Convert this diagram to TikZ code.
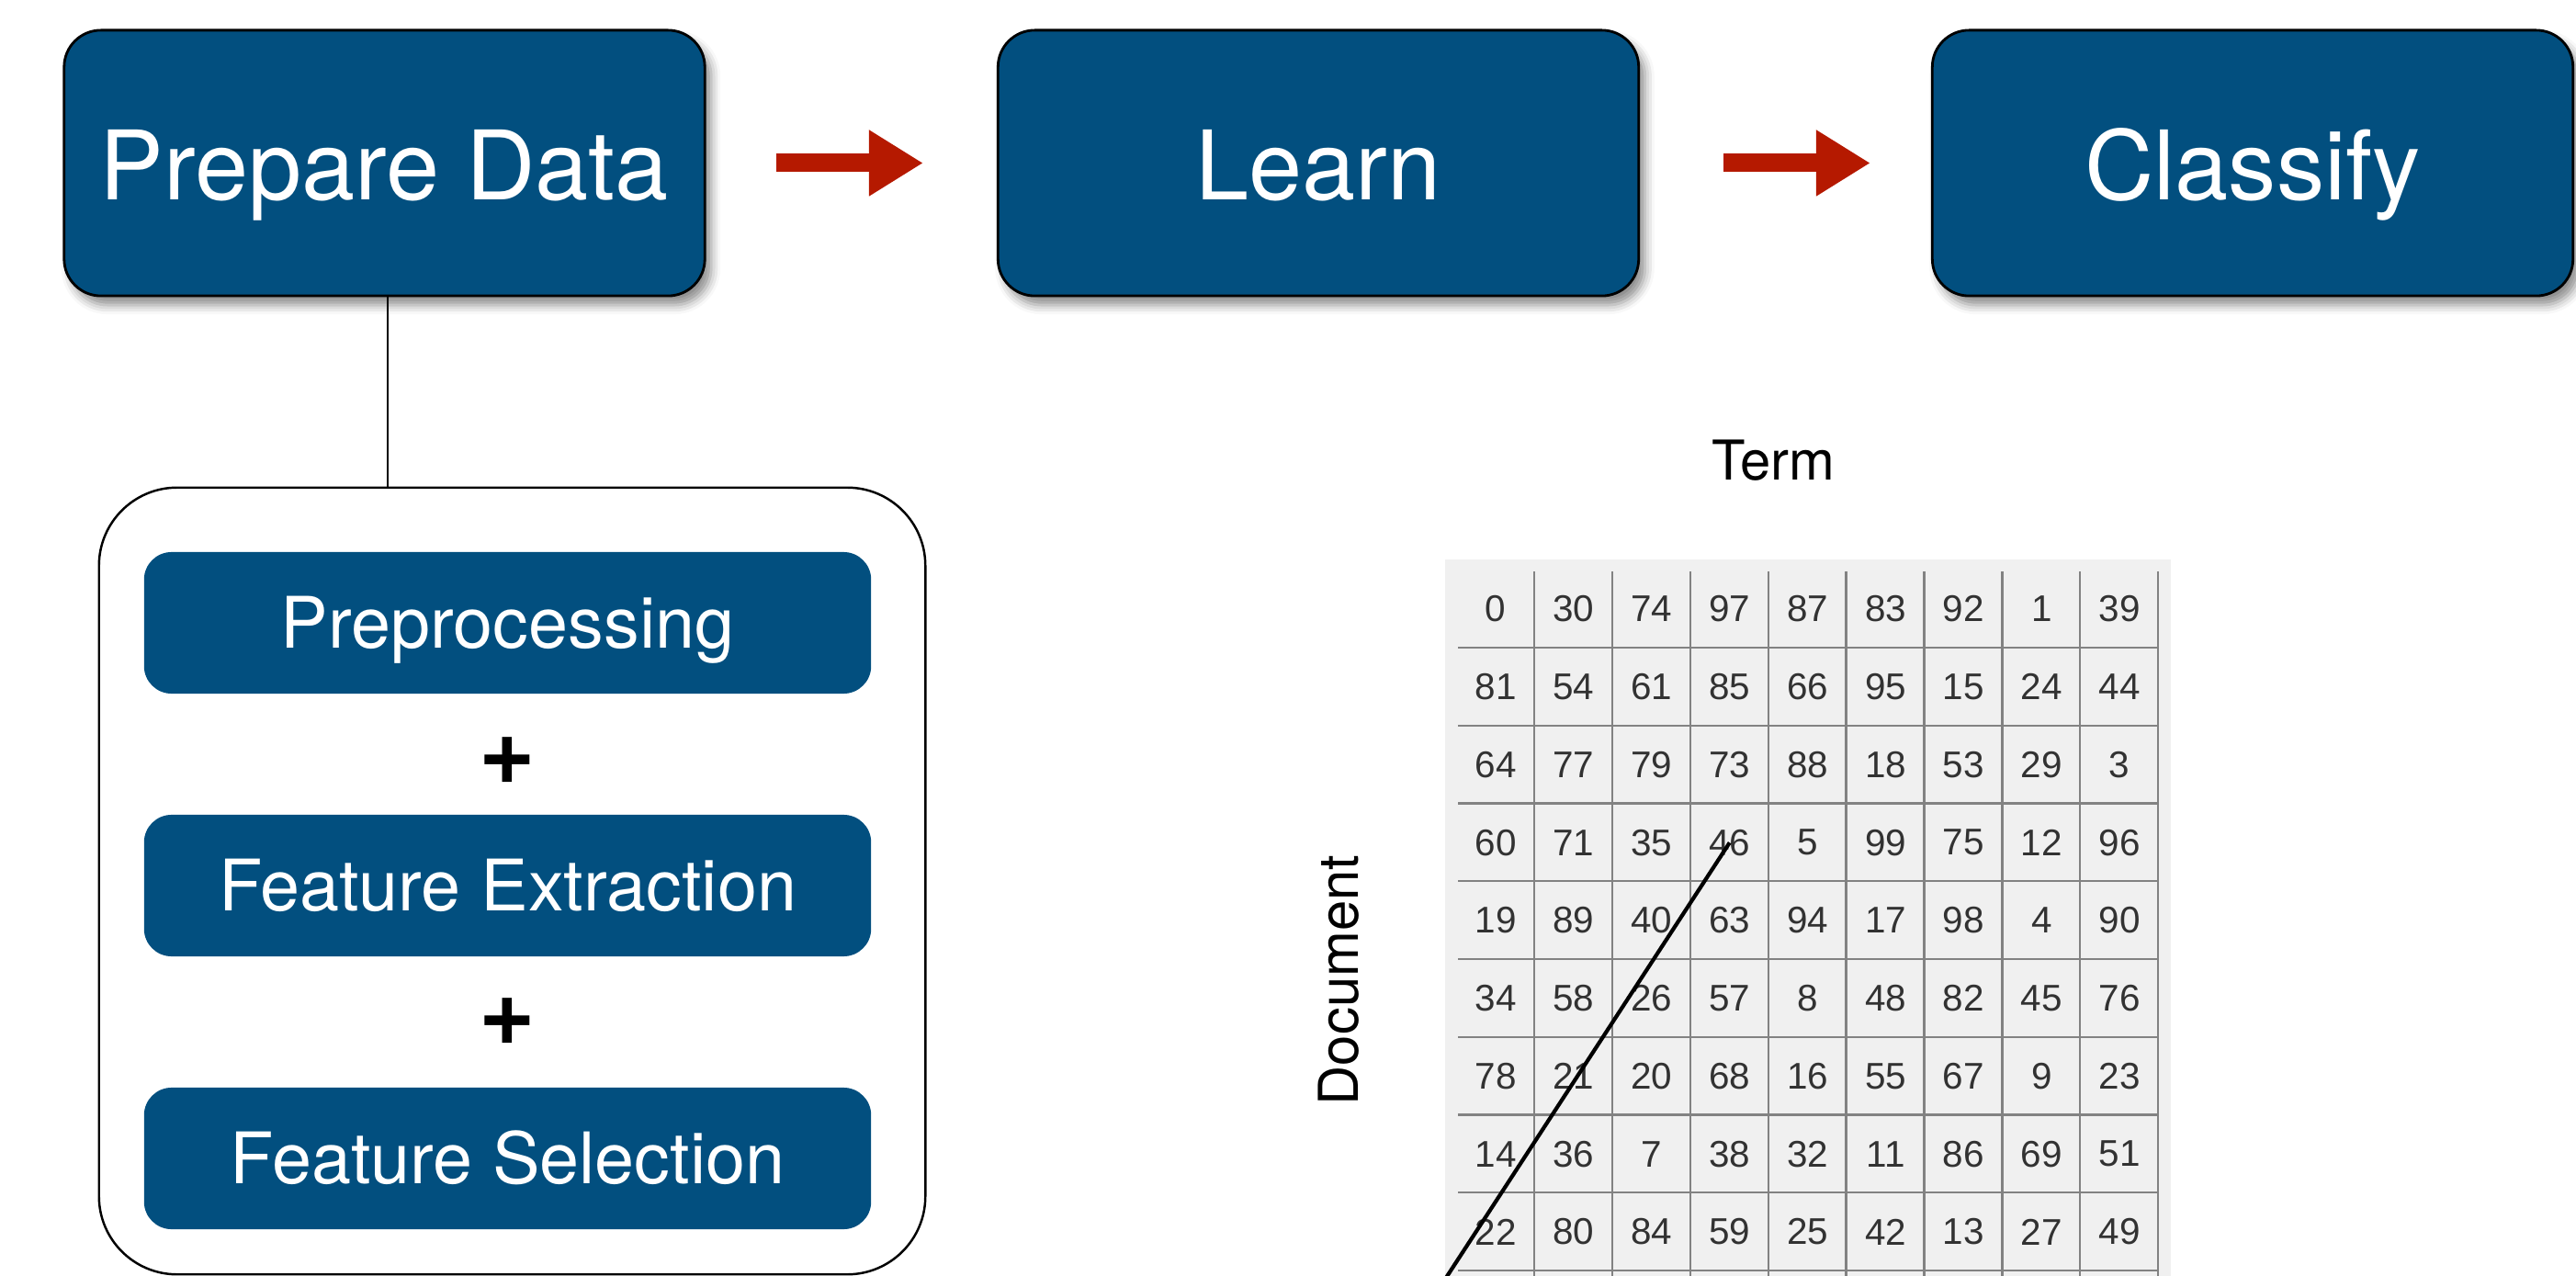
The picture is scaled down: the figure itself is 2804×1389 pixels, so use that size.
\documentclass[tikz,border=0pt]{standalone}
\usepackage{fontspec}
\setmainfont{TeX Gyre Heros}
\newfontfamily\cellfont{Liberation Sans}
\usetikzlibrary{arrows.meta,shadows.blur}
\definecolor{boxblue}{RGB}{2,79,127}
\definecolor{arrowred}{RGB}{181,25,0}
\definecolor{cellbg}{RGB}{240,240,240}
\definecolor{gridgray}{RGB}{130,130,130}
\definecolor{celltext}{RGB}{50,50,50}
\begin{document}
\begin{tikzpicture}[x=0.01cm,y=-0.01cm,
  stage/.style={draw=black, line width=0.8pt, fill=boxblue, rounded corners=4mm,
    minimum width=69.7mm, minimum height=28.9mm, inner sep=0pt, text=white,
    font=\fontsize{29.7}{32}\selectfont, text height=8mm, text depth=0pt,
    blur shadow={shadow xshift=0.7mm, shadow yshift=-1mm, shadow blur radius=1mm, shadow opacity=45}},
  substep/.style={fill=boxblue, rounded corners=3mm, minimum width=79.1mm,
    minimum height=15.4mm, inner sep=0pt, text=white,
    font=\fontsize{22}{26}\selectfont, text height=5.4mm, text depth=0pt},
  group/.style={draw=black, line width=0.7pt, rounded corners=8.5mm,
    minimum width=89.9mm, minimum height=85.6mm, inner sep=0pt},
  plus/.style={font=\fontsize{30}{32}\selectfont\bfseries, inner sep=0pt},
  flow/.style={arrowred, line width=2mm, -{Triangle[length=5.9mm,width=6.8mm]}},
  link/.style={black, line width=0.8pt},
  axislabel/.style={font=\fontsize{17}{20}\selectfont, inner sep=0pt, anchor=base},
  cell/.style={font=\cellfont\fontsize{11.5}{13}\selectfont, text=celltext, inner sep=0pt},
  gridline/.style={gridgray, line width=0.65pt},
  pointer/.style={black, line width=1.2pt}
]
\useasboundingbox (0,0) rectangle (2804,1389);

% top stages
\node[stage] (prep) at (418.5,177.5) {Prepare Data};
\node[stage] (learn) at (1435,177.5) {Learn};
\node[stage] (classify) at (2452,177.5) {Classify};

\draw[flow, shorten <=7.6mm, shorten >=8mm] (prep.east) -- (learn.west);
\draw[flow, shorten <=9.1mm, shorten >=6.6mm] (learn.east) -- (classify.west);

% preparation group
\node[group] (grp) at (557.5,959) {};
\draw[link] ([xshift=0.35mm]prep.south) -- ([xshift=0.35mm]prep.south |- grp.north);

\node[substep] (pre) at (552.5,678) {Preprocessing};
\node[plus] (plusA) at (552,828) {+};
\node[substep] (fext) at (552.5,964) {Feature Extraction};
\node[plus] (plusB) at (552,1112) {+};
\node[substep] (fsel) at (552.5,1261) {Feature Selection};

% term-document matrix
\fill[cellbg] (1573,609) rectangle (2363,1395);
\foreach \k in {0,...,8} {
  \draw[gridline] (1670+84.9*\k,622) -- (1670+84.9*\k,1395);
  \draw[gridline] (1587,705+84.75*\k) -- (2349,705+84.75*\k);
}
\foreach \row [count=\r] in {
  {0,30,74,97,87,83,92,1,39},
  {81,54,61,85,66,95,15,24,44},
  {64,77,79,73,88,18,53,29,3},
  {60,71,35,46,5,99,75,12,96},
  {19,89,40,63,94,17,98,4,90},
  {34,58,26,57,8,48,82,45,76},
  {78,21,20,68,16,55,67,9,23},
  {14,36,7,38,32,11,86,69,51},
  {22,80,84,59,25,42,13,27,49}} {
  \foreach \v [count=\c] in \row {
    \node[cell] (c-\r-\c) at (1628+84.9*\c-84.9, 663+84.75*\r-84.75) {\v};
  }
}

\node[axislabel] (term) at (1930,523) {Term};
\node[axislabel, rotate=90] (doc) at (1478,1067) {Document};

\coordinate (lineend) at (1572,1394);
\draw[pointer] (c-4-4.center) -- (lineend);
\end{tikzpicture}
\end{document}
